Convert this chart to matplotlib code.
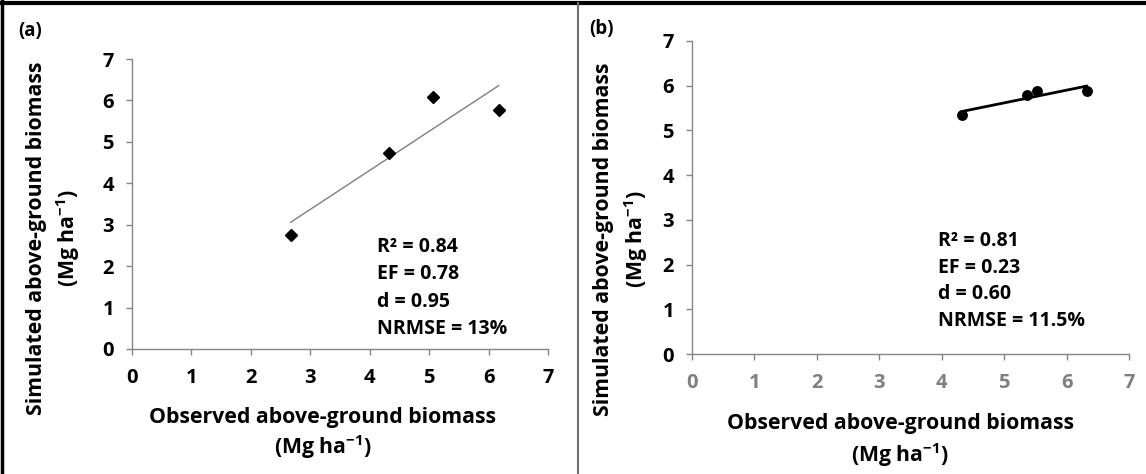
import matplotlib
matplotlib.use("Agg")
import matplotlib.pyplot as plt
import numpy as np
from matplotlib.lines import Line2D

FONT = "Open Sans"
plt.rcParams["font.family"] = [FONT, "DejaVu Sans"]
plt.rcParams["font.weight"] = "bold"
plt.rcParams["mathtext.fontset"] = "custom"
plt.rcParams["mathtext.rm"] = f"{FONT}:bold"
plt.rcParams["mathtext.bf"] = f"{FONT}:bold"
plt.rcParams["mathtext.it"] = f"{FONT}:bold"
plt.rcParams["mathtext.default"] = "rm"

# observed vs simulated above-ground biomass (Mg ha-1)
obs_a = [2.67, 4.33, 5.06, 6.17]
sim_a = [2.75, 4.74, 6.09, 5.77]
obs_b = [4.33, 5.36, 5.52, 6.32]
sim_b = [5.34, 5.80, 5.88, 5.88]

stats_a = ["R² = 0.84", "EF = 0.78", "d = 0.95", "NRMSE = 13%"]
stats_b = ["R² = 0.81", "EF = 0.23", "d = 0.60", "NRMSE = 11.5%"]

ticks = [0, 1, 2, 3, 4, 5, 6, 7]
ylab1, ylab2 = "Simulated above-ground biomass", "(Mg ha$^{-1}$)"
xlab1, xlab2 = "Observed above-ground biomass", "(Mg ha$^{-1}$)"

AXIS_GREY = "#868686"
W, H = 1146, 474

fig = plt.figure(figsize=(W / 100, H / 100), dpi=100)


def px_axes(x0, x7, y0, y7):
    # axes box given in pixel coords measured from the top-left corner
    return fig.add_axes([x0 / W, 1 - y0 / H, (x7 - x0) / W, (y0 - y7) / H])


def put(x, y, s, **kw):
    kw.setdefault("fontsize", 15.3)
    kw.setdefault("fontweight", "bold")
    return fig.text(x / W, 1 - y / H, s, **kw)


ax_a = px_axes(132, 548, 349, 59)
ax_b = px_axes(692, 1129, 354, 41)


def style_axes(ax, xtick_color):
    ax.set_xlim(0, 7)
    ax.set_ylim(0, 7)
    ax.set_xticks(ticks)
    ax.set_yticks(ticks)
    for side in ("top", "right"):
        ax.spines[side].set_visible(False)
    for side in ("left", "bottom"):
        ax.spines[side].set_color(AXIS_GREY)
        ax.spines[side].set_linewidth(1.0)
    ax.tick_params(axis="both", direction="out", length=4, width=1.0,
                   color=AXIS_GREY, labelsize=14.5)
    ax.tick_params(axis="y", pad=9)
    ax.tick_params(axis="x", labelcolor=xtick_color, pad=10)
    for lab in ax.get_xticklabels() + ax.get_yticklabels():
        lab.set_fontweight("bold")


# panel (a): diamonds with thin grey trendline
style_axes(ax_a, "black")
ax_a.plot(obs_a, sim_a, "D", color="black", markersize=6.5, zorder=3)
k, b = np.polyfit(obs_a, sim_a, 1)
xs = np.array([min(obs_a), max(obs_a)])
ax_a.plot(xs, k * xs + b, color="#7f7f7f", linewidth=1.0, zorder=2)
for i, s in enumerate(stats_a):
    put(377, 247 + i * 27.4, s, fontsize=14, va="center", ha="left")

# panel (b): circles with heavy black trendline
style_axes(ax_b, "#7f7f7f")
ax_b.plot(obs_b, sim_b, "o", color="black", markersize=6.8, zorder=3)
k, b = np.polyfit(obs_b, sim_b, 1)
xs = np.array([min(obs_b), max(obs_b)])
ax_b.plot(xs, k * xs + b, color="black", linewidth=2.0, zorder=2)
for i, s in enumerate(stats_b):
    put(938, 241 + i * 26.7, s, fontsize=14, va="center", ha="left")

# axis titles
put(37, 238, ylab1, rotation=90, ha="center", va="center")
put(68, 238, ylab2, rotation=90, ha="center", va="center")
put(323, 418, xlab1, ha="center", va="center")
put(323, 447, xlab2, ha="center", va="center")

put(603, 239, ylab1, rotation=90, ha="center", va="center")
put(636, 239, ylab2, rotation=90, ha="center", va="center")
put(900, 423, xlab1, ha="center", va="center")
put(900, 455, xlab2, ha="center", va="center")

put(30, 31, "(a)", fontsize=13.5, ha="center", va="center")
put(601, 29, "(b)", fontsize=13.5, ha="center", va="center")

# frame around the two panels and the divider between them
frame = [
    ([0, W], [H - 2.5, H - 2.5], 3.0, "black"),
    ([2, 2], [0, H], 2.5, "black"),
    ([578, 578], [0, H - 3], 1.5, "#707070"),
]
for xv, yv, lw, c in frame:
    fig.add_artist(Line2D(np.array(xv) / W, np.array(yv) / H, transform=fig.transFigure,
                          color=c, linewidth=lw))

fig.savefig("out.png", dpi=100)
